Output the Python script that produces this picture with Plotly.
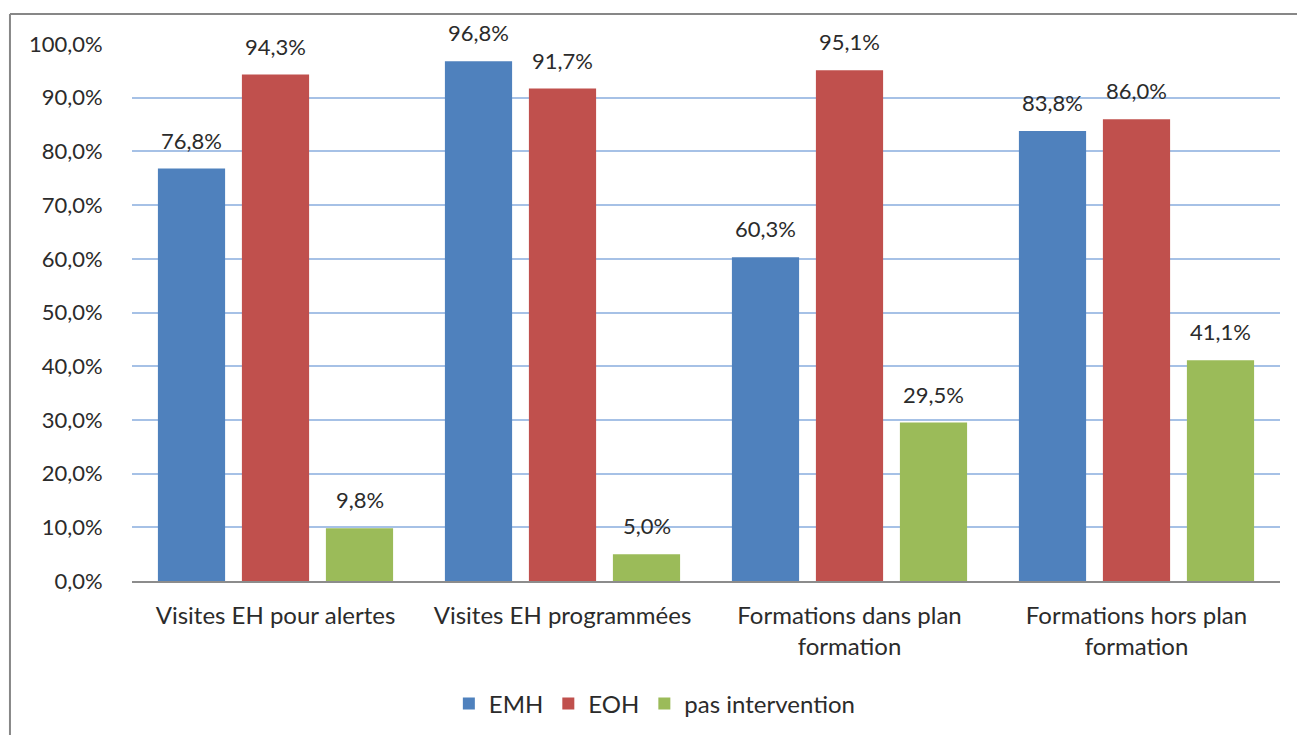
import plotly.graph_objects as go

categories = [
    "Visites EH pour alertes",
    "Visites EH programmées",
    "Formations dans plan<br>formation",
    "Formations hors plan<br>formation",
]
emh = [0.768, 0.968, 0.603, 0.838]
eoh = [0.943, 0.917, 0.951, 0.860]
pas_intervention = [0.098, 0.050, 0.295, 0.411]

series = [
    ("EMH", emh, "#4f81bd", -84),
    ("EOH", eoh, "#c0504d", 0),
    ("pas intervention", pas_intervention, "#9bbb59", 84),
]

FONT = "Lato"
TEXT = "#2b2b2b"
NUM_SIZE = 22
LABEL_SIZE = 24

fig = go.Figure()
annotations = []
for name, vals, color, dx in series:
    fig.add_trace(go.Bar(name=name, x=categories, y=vals, marker_color=color,
                         marker_line_width=0))
    for c, v in zip(categories, vals):
        annotations.append(dict(
            x=c, y=v, xref="x", yref="y", xshift=dx, yshift=13,
            yanchor="bottom", showarrow=False,
            text=f"{v * 100:.1f}%".replace(".", ","),
            font=dict(family=FONT, size=NUM_SIZE, color=TEXT),
        ))

# Chart-area frame (left and top edges)
border = dict(type="line", xref="paper", yref="paper",
              line=dict(color="#878787", width=2))
shapes = [
    dict(border, x0=-0.1063, x1=-0.1063, y0=-0.3, y1=1.0559),
    dict(border, x0=-0.1063, x1=1.05, y0=1.0559, y1=1.0559),
]

fig.update_layout(
    width=1297, height=735,
    margin=dict(l=132, r=17, t=44, b=154, autoexpand=False),
    paper_bgcolor="white", plot_bgcolor="white",
    separators=", ",
    barmode="group", bargap=0.122, bargroupgap=0.2,
    font=dict(family=FONT, size=LABEL_SIZE, color=TEXT),
    showlegend=True,
    legend=dict(orientation="h", x=0.276, xanchor="left", y=-0.229,
                yanchor="middle", font=dict(family=FONT, size=LABEL_SIZE, color=TEXT),
                itemwidth=30, traceorder="normal"),
    annotations=annotations,
    shapes=shapes,
)
fig.update_yaxes(range=[0, 1.0], tickformat=".1%", dtick=0.1,
                 showgrid=True, gridcolor="#a6c1e6", gridwidth=2,
                 zeroline=False, showline=False, automargin=False,
                 ticks="outside", ticklen=0, ticklabelstandoff=24,
                 tickfont=dict(family=FONT, size=NUM_SIZE, color=TEXT))
fig.update_xaxes(showline=True, linecolor="#8c8c8c", linewidth=2,
                 automargin=False,
                 ticks="outside", ticklen=0, ticklabelstandoff=12,
                 tickfont=dict(family=FONT, size=LABEL_SIZE, color=TEXT))

fig.write_html("out.html")
